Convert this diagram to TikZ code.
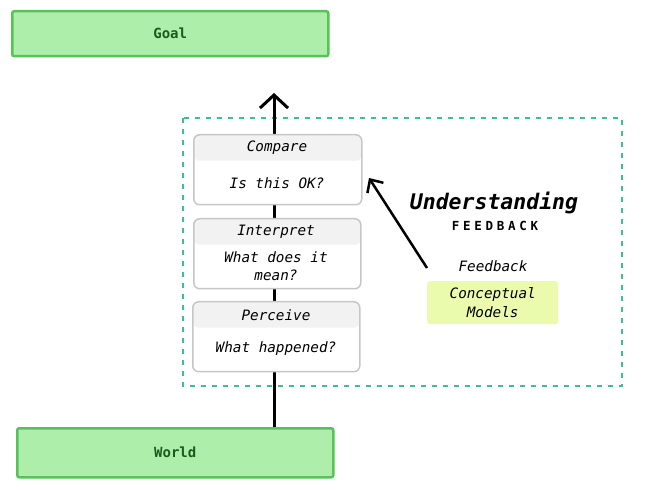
\documentclass[tikz,border=0pt]{standalone}
\usepackage{fontspec}
\setmonofont{DejaVu Sans Mono}
\usetikzlibrary{arrows.meta,backgrounds}
\definecolor{gfill}{HTML}{ADEEAA}
\definecolor{gline}{HTML}{55C455}
\definecolor{gtext}{HTML}{1B5A1B}
\definecolor{dashcol}{HTML}{3DBF8F}
\definecolor{cfill}{HTML}{EAFBAE}
\definecolor{sline}{HTML}{C6C6C6}
\definecolor{hfill}{HTML}{F2F2F2}
\tikzset{
  greenbox/.style={draw=gline, fill=gfill, line width=2.5pt, rounded corners=2pt, anchor=north west, inner sep=0pt},
  stagebox/.style={draw=sline, fill=white, line width=1.5pt, rounded corners=6pt, anchor=north west, inner sep=0pt,
    path picture={\fill[hfill] (path picture bounding box.north west) rectangle ([yshift=-26pt]path picture bounding box.north east);}},
  gtxt/.style={font=\ttfamily\bfseries\fontsize{14}{16}\selectfont, text=gtext},
  itxt/.style={font=\ttfamily\itshape\fontsize{14.3}{18.5}\selectfont, align=center, text=black},
  flow/.style={line width=3pt, -{Straight Barb[length=13pt,width=28pt]}},
}
\begin{document}
\begin{tikzpicture}[x=1pt,y=-1pt]
\useasboundingbox (0,0) rectangle (651,494);
% green boxes
\node[greenbox, minimum width=316pt, minimum height=45pt] (goal) at (11,10) {};
\node[gtxt] at (goal.center) {Goal};
\node[greenbox, minimum width=316pt, minimum height=49pt] (world) at (16,427) {};
\node[gtxt] at (world.center) {World};
% dashed region
\draw[dashcol, line width=2pt, dash pattern=on 5pt off 6pt] (183,118) rectangle (622,386);
% main flow line (behind stage boxes)
\coordinate (top) at (274,93);
\draw[flow] (world.north -| top) -- (top);
% stage boxes
\node[stagebox, minimum width=168pt, minimum height=70pt] (cmp) at (193,134) {};
\node[itxt] at (277,148) {Compare};
\node[itxt] at (277,183) {Is this OK?};
\node[stagebox, minimum width=167pt, minimum height=70pt] (int) at (193,218) {};
\node[itxt] at (276,232) {Interpret};
\node[itxt] at (276,266) {What does it\\mean?};
\node[stagebox, minimum width=167pt, minimum height=70pt] (per) at (192,301) {};
\node[itxt] at (276,315) {Perceive};
\node[itxt] at (276,349) {What happened?};
% understanding
\node[font=\ttfamily\bfseries\itshape\fontsize{21.5}{24}\selectfont] (und) at (494,203) {Understanding};
\node[font=\ttfamily\bfseries\fontsize{12.5}{14}\selectfont\addfontfeature{LetterSpace=30}] (fb) at (495,226) {FEEDBACK};
\node[itxt] (fbk) at (493,266) {Feedback};
\node[fill=cfill, rounded corners=3pt, minimum width=131pt, minimum height=43pt, anchor=north west, inner sep=0pt] (cm) at (427,281) {};
\node[itxt, text=black] at (cm.center) {Conceptual\\ Models};
% feedback arrow
\coordinate (fbstart) at (427,268);
\coordinate (fbend) at (369,178);
\draw[line width=2.5pt, -{Straight Barb[length=10pt,width=19pt]}] (fbstart) -- (fbend);
\end{tikzpicture}
\end{document}
